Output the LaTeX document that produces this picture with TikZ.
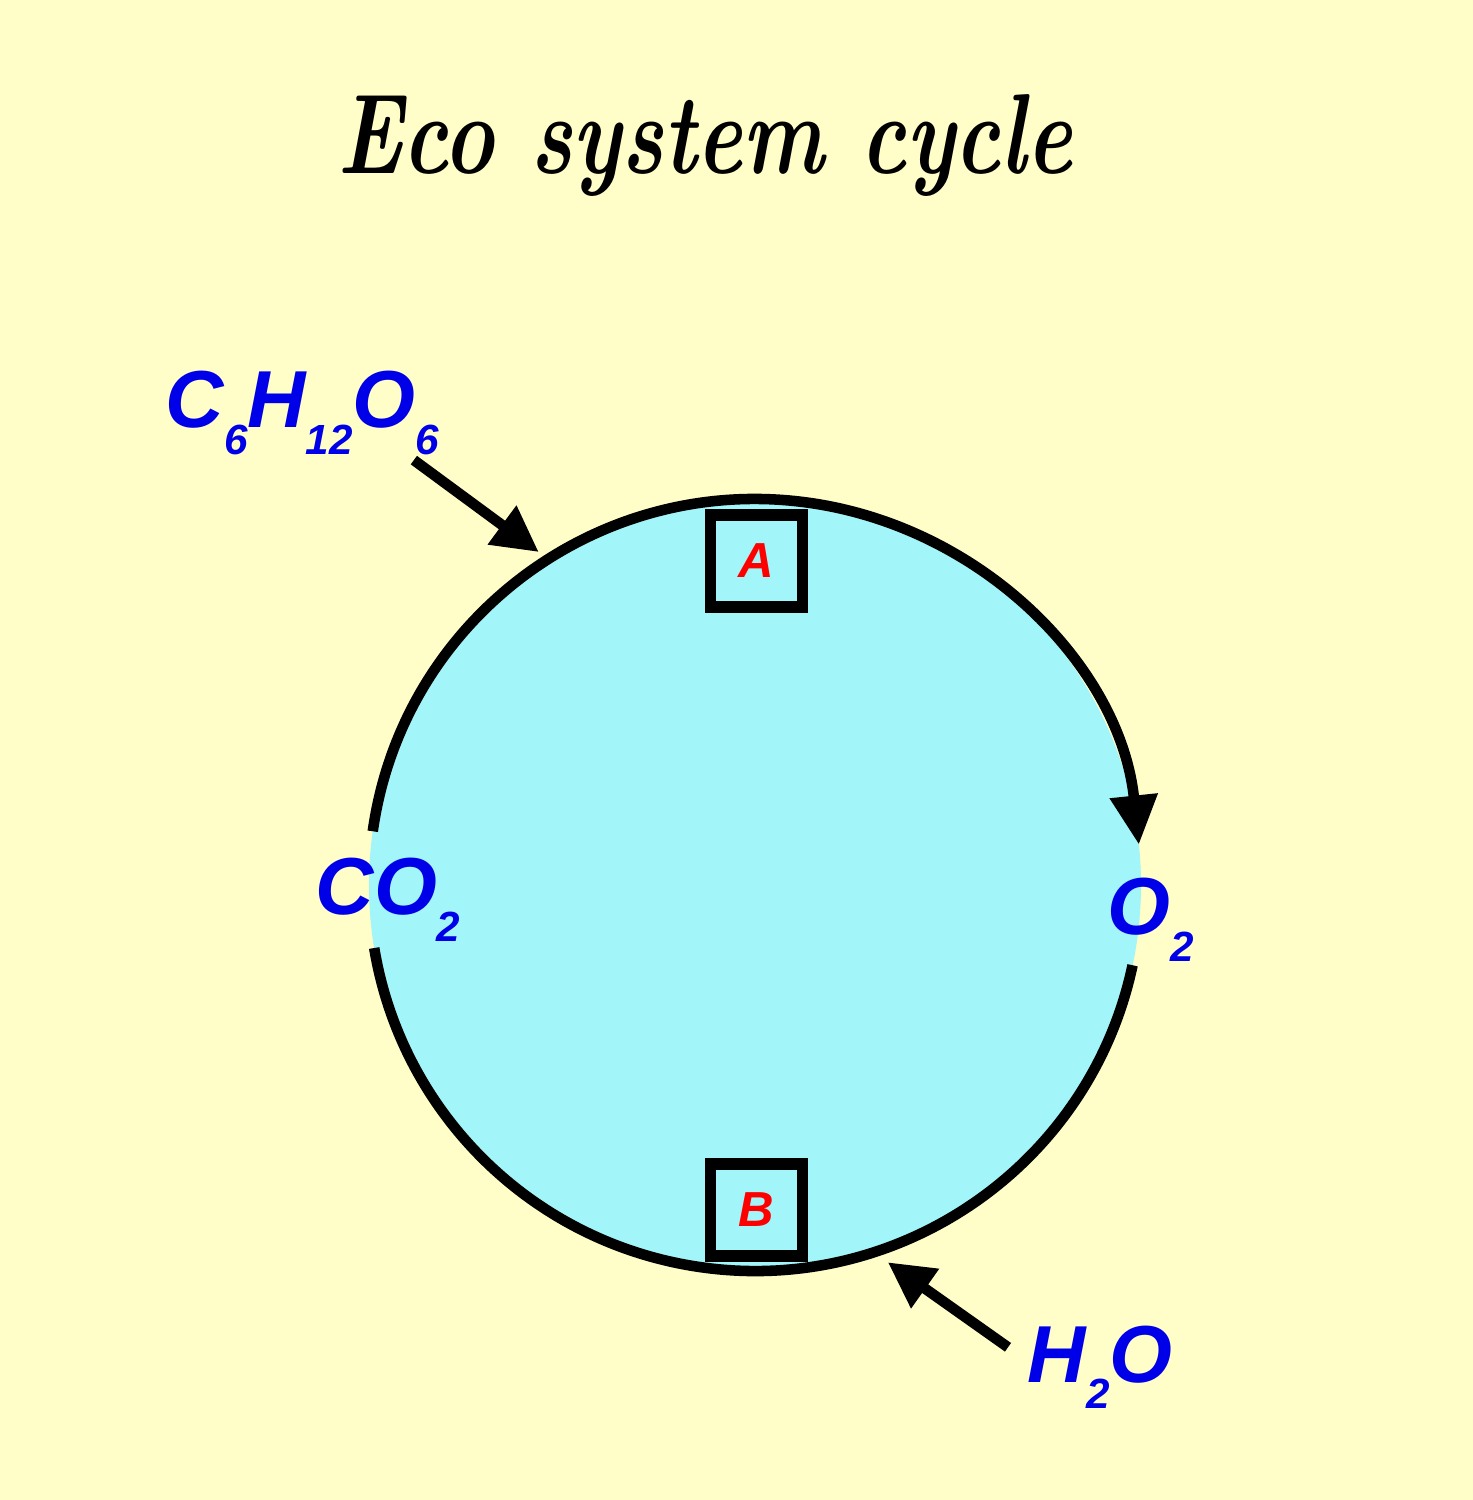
\documentclass[tikz,border=0pt]{standalone}
\usepackage{fontspec}
\setsansfont{Liberation Sans}
\usetikzlibrary{arrows.meta}
\definecolor{paper}{HTML}{FFFDC8}
\definecolor{pool}{HTML}{A2F5F8}
\definecolor{chemblue}{HTML}{0000E8}
\newcommand{\chsub}[1]{\raisebox{-2.7mm}{\fontsize{12}{12}\selectfont #1}}

\begin{document}
\begin{tikzpicture}
\fill[paper] (0,0) rectangle (14.73,15);
\useasboundingbox (0,0) rectangle (14.73,15);

    \node (title) at (7.05,13.55) {\scalebox{0.82}[1.08]{\fontsize{30}{30}\selectfont\bfseries\itshape Eco system cycle}};

    \coordinate (c) at (7.55,6.15);
    \fill[pool] (c) circle (3.86);
    \draw[line width=3pt,-{Triangle[width=13pt,length=14pt]}] ([shift={(172:3.86)}]c) arc (172:6:3.86);
    \draw[line width=3pt] ([shift={(-12:3.86)}]c) arc (-12:-170.6:3.86);

\begin{scope}[every node/.style={draw,line width=3.2pt,fill=pool,minimum size=0.92cm,inner sep=0pt,text=red,font=\sffamily\bfseries\itshape\fontsize{14}{14}\selectfont}]
    \node (A) at (7.565,9.39){\raisebox{-0.8mm}{A}};
    \node (B) at (7.565,2.90){B};
\end{scope}

\begin{scope}[every node/.style={text=chemblue,inner sep=0pt,anchor=base west,font=\sffamily\bfseries\itshape\fontsize{23}{23}\selectfont}]
    \node (glu) at (1.65,10.72){C\chsub{6}H\chsub{12}O\chsub{6}};
    \node (co2) at (3.15,5.85){CO\chsub{2}};
    \node (o2) at (11.07,5.65){O\chsub{2}};
    \node (h2o) at (10.27,1.18){H\chsub{2}O};
\end{scope}

    \coordinate (gluin) at ([shift={(123:3.97)}]c);
    \coordinate (h2oin) at ([shift={(-70.6:4.0)}]c);

    \path [line width=3pt,-{Triangle[width=13pt,length=13pt]}] ([shift={(-0.26,-0.04)}]glu.south east) edge (gluin);

    \path [line width=3pt,-{Triangle[width=13pt,length=13pt]}] ([shift={(-0.19,0.2)}]h2o.west) edge (h2oin);

\end{tikzpicture}
\end{document}
